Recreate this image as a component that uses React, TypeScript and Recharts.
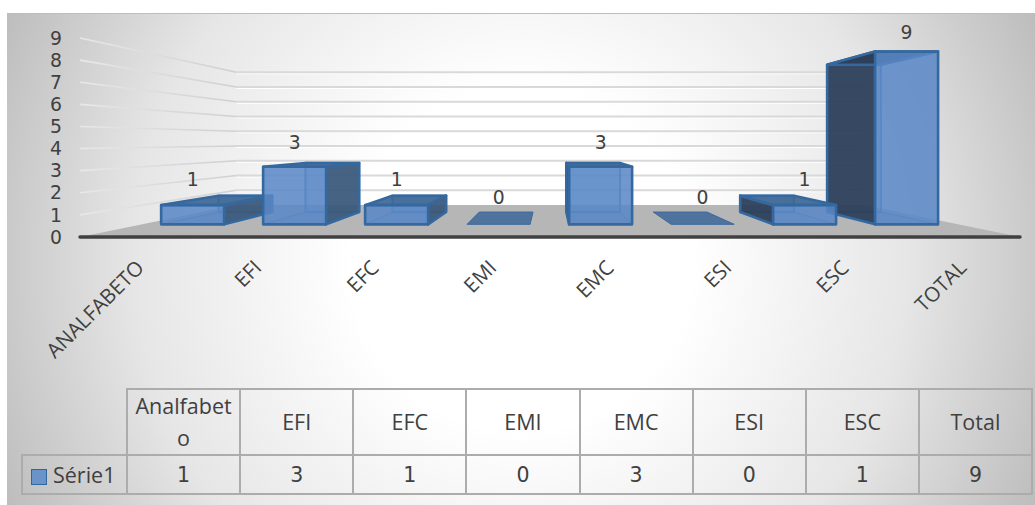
import React from "react";
import { ComposedChart, Bar, XAxis, YAxis, CartesianGrid, LabelList } from "recharts";

const categories = ["Analfabeto", "EFI", "EFC", "EMI", "EMC", "ESI", "ESC", "Total"];
const serieValues = [1, 3, 1, 0, 3, 0, 1, 9];
const yTicks = [0, 1, 2, 3, 4, 5, 6, 7, 8, 9];
const xTicks = categories.map((_, i) => i);
const seriesName = "Série1";

// Outer columns are painted first so the inner ones sit in front of them.
const middleSlot = (categories.length - 1) / 2;
const rows = categories
  .map((name, slot) => ({ name, slot, value: serieValues[slot] }))
  .sort((a, b) => Math.abs(b.slot - middleSlot) - Math.abs(a.slot - middleSlot));

// One-point perspective: every depth plane shrinks toward the vanishing point.
const VANISH = { x: 550, y: 141 };
const DEPTH_WALL = 0.667;
const DEPTH_BAR_FRONT = 0.868;
const DEPTH_BAR_BACK = 0.74;
const project = (x: number, y: number, k: number) => ({
  x: VANISH.x + (x - VANISH.x) * k,
  y: VANISH.y + (y - VANISH.y) * k,
});
const pts = (list: { x: number; y: number }[]) => list.map((p) => `${p.x},${p.y}`).join(" ");

const FONT = "'Open Sans', sans-serif";
const DIGIT_FONT = "'DejaVu Sans', sans-serif";
const TEXT = "#404040";

const WallLine = (props: any) => {
  const { x1, x2, y1 } = props;
  if (y1 > 230) {
    const a = { x: x1, y: y1 };
    const b = { x: x2, y: y1 };
    return (
      <g key={props.key}>
        <polygon points={pts([a, b, project(x2, y1, DEPTH_WALL), project(x1, y1, DEPTH_WALL)])} fill="#b6b6b6" />
        <line x1={x1} x2={x2} y1={y1} y2={y1} stroke="#404040" strokeWidth={3.5} strokeLinecap="round" />
      </g>
    );
  }
  const corner = project(x1, y1, DEPTH_WALL);
  const end = project(x2, y1, DEPTH_WALL);
  return (
    <g key={props.key}>
      <line x1={corner.x} x2={end.x} y1={corner.y + 1.5} y2={end.y + 1.5} stroke="#ffffff" strokeWidth={1} />
      <line x1={corner.x} x2={end.x} y1={corner.y} y2={end.y} stroke="#d9d9d9" strokeWidth={2} />
      <line x1={x1} y1={y1} x2={corner.x} y2={corner.y} stroke="url(#wallFade)" strokeWidth={1.6} />
    </g>
  );
};

const Prism = (props: any) => {
  const { x, y, width, height } = props;
  const right = x + width;
  const base = y + height;
  const f = (px: number, py: number) => project(px, py, DEPTH_BAR_FRONT);
  const b = (px: number, py: number) => project(px, py, DEPTH_BAR_BACK);

  if (height < 0.5) {
    return (
      <polygon
        points={pts([f(x, base), f(right, base), b(right, base), b(x, base)])}
        fill="#4f739c"
        stroke="#3c6a9f"
        strokeWidth={1}
      />
    );
  }

  const edge = "#34689f";
  const innerEdge = "rgba(62,115,180,0.75)";
  const onLeft = x + width / 2 < VANISH.x;
  const sideX = onLeft ? right : x;
  const sideFill = onLeft ? "rgba(58,88,122,0.92)" : "rgba(44,62,88,0.93)";
  // Columns taller than the eye line show their underside, which is as dark as the near flank.
  const topFill = f(x, y).y < b(x, y).y ? "rgba(44,62,88,0.93)" : "rgba(58,100,145,0.9)";
  const outline = { stroke: edge, strokeWidth: 2.6, strokeLinejoin: "round" as const };
  const inner = { stroke: innerEdge, strokeWidth: 2.2, strokeLinejoin: "round" as const };
  const frontLeft = f(x, y);
  const frontRight = f(right, base);
  return (
    <g>
      <polygon points={pts([b(x, y), b(right, y), b(right, base), b(x, base)])} fill="rgba(90,135,195,0.25)" {...inner} />
      <polygon points={pts([f(x, base), f(right, base), b(right, base), b(x, base)])} fill="rgba(90,135,195,0.2)" {...inner} strokeWidth={1} />
      <polygon points={pts([f(sideX, y), b(sideX, y), b(sideX, base), f(sideX, base)])} fill={sideFill} {...outline} />
      <polygon points={pts([f(x, y), f(right, y), b(right, y), b(x, y)])} fill={topFill} {...outline} />
      <rect
        x={frontLeft.x}
        y={frontLeft.y}
        width={frontRight.x - frontLeft.x}
        height={frontRight.y - frontLeft.y}
        fill="rgba(88,135,198,0.86)"
        {...outline}
      />
    </g>
  );
};

const ValueLabel = (props: any) => {
  const { x, y, width, value } = props;
  const at = project(x + width / 2, y, DEPTH_BAR_FRONT);
  const lift = project(x + width / 2, y, 0.83);
  return (
    <text x={at.x} y={lift.y - 23} textAnchor="middle" dominantBaseline="central" fontFamily={DIGIT_FONT} fontSize={18.8} fill={TEXT}>
      {value}
    </text>
  );
};

const SlantedTick = (props: any) => {
  const { x, y, payload } = props;
  const tx = x + 6.5;
  const ty = y + 24;
  return (
    <text x={tx} y={ty} textAnchor="end" transform={`rotate(-45 ${tx} ${ty})`} fontFamily={FONT} fontSize={20.5} fill={TEXT}>
      {categories[payload.value].toUpperCase()}
    </text>
  );
};

const cellBorder = "2px solid #acacac";
const cell: React.CSSProperties = {
  border: cellBorder,
  textAlign: "center",
  padding: "0 4px",
  color: TEXT,
  fontFamily: FONT,
  fontSize: 21.5,
  lineHeight: "32px",
};

const DataTable = () => (
  <table
    style={{
      position: "absolute",
      left: 21,
      top: 388,
      width: 1012,
      height: 107,
      tableLayout: "fixed",
      borderCollapse: "collapse",
    }}
  >
    <colgroup>
      <col style={{ width: 105 }} />
      {categories.map((c) => (
        <col key={c} />
      ))}
    </colgroup>
    <tbody>
      <tr style={{ height: 65 }}>
        <td style={{ border: "none", borderRight: cellBorder, borderBottom: cellBorder }} />
        {categories.map((c) => (
          <td key={c} style={{ ...cell, wordBreak: "break-all" }}>
            {c}
          </td>
        ))}
      </tr>
      <tr>
        <td style={{ ...cell, whiteSpace: "nowrap", textAlign: "left", padding: "0 0 0 8px" }}>
          <span
            style={{
              display: "inline-block",
              boxSizing: "border-box",
              width: 16,
              height: 16,
              marginRight: 6,
              verticalAlign: "-2px",
              background: "#6a93c8",
              border: "1.5px solid #2f669f",
            }}
          />
          {seriesName}
        </td>
        {serieValues.map((v, i) => (
          <td key={categories[i]} style={{ ...cell, fontFamily: DIGIT_FONT, fontSize: 20.5 }}>
            {v}
          </td>
        ))}
      </tr>
    </tbody>
  </table>
);

export default function App() {
  return (
    <div style={{ position: "absolute", left: 0, top: 0, width: 1035, height: 505, background: "#fff", overflow: "hidden" }}>
      <div
        style={{
          position: "absolute",
          left: 7,
          top: 13,
          width: 1028,
          height: 492,
          boxSizing: "border-box",
          borderTop: "1.5px solid #bdbdbd",
          background: "radial-gradient(circle at 50% 50%, #ffffff 30%, #e6e6e6 68%, #bdbdbd 100%)",
        }}
      />
      <div style={{ position: "absolute", left: 0, top: 0 }}>
        <ComposedChart width={1035} height={505} data={rows} margin={{ top: 38, right: 15, bottom: 0, left: 0 }} barSize={72.6}>
          <defs>
            <linearGradient id="wallFade" gradientUnits="userSpaceOnUse" x1={80} y1={0} x2={235} y2={0}>
              <stop offset="0%" stopColor="#e8e8e8" />
              <stop offset="100%" stopColor="#d0d0d0" />
            </linearGradient>
          </defs>
          <CartesianGrid vertical={false} horizontal={WallLine} />
          <XAxis
            type="number"
            dataKey="slot"
            domain={[-0.5, categories.length - 0.5]}
            ticks={xTicks}
            interval={0}
            height={268}
            axisLine={false}
            tickLine={false}
            tick={<SlantedTick />}
          />
          <YAxis
            width={80}
            domain={[0, 9]}
            ticks={yTicks}
            interval={0}
            axisLine={false}
            tickLine={false}
            tickMargin={12}
            tick={{ fontFamily: DIGIT_FONT, fontSize: 18.8, fill: TEXT }}
          />
          <Bar dataKey="value" name={seriesName} shape={<Prism />} isAnimationActive={false}>
            <LabelList dataKey="value" content={<ValueLabel />} />
          </Bar>
        </ComposedChart>
      </div>
      <DataTable />
    </div>
  );
}
